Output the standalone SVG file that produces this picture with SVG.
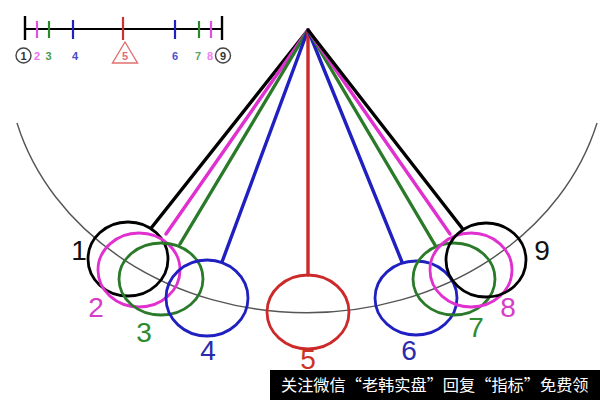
<svg xmlns="http://www.w3.org/2000/svg" width="600" height="400" viewBox="0 0 600 400">
<style>
.str{stroke-width:3.4;fill:none;stroke-linecap:round}
.bob{stroke-width:2.8;fill:none}
.k{stroke:#000}.m{stroke:#e030d0}.g{stroke:#2a7a2a}.b{stroke:#2020c0}.r{stroke:#cc2a2a}
.lbl{font-family:"Liberation Sans",Arial,sans-serif;font-size:28px;text-anchor:middle}
.sl{font-family:"Liberation Sans",Arial,sans-serif;font-size:11px;text-anchor:middle;font-weight:bold}
.tk{stroke-width:2.2}
</style>
<rect width="600" height="400" fill="#fff"/>
<g id="scale">
<line x1="25" y1="29" x2="222" y2="29" stroke="#000" stroke-width="2.2"/>
<line x1="25" y1="16" x2="25" y2="40" stroke="#000" stroke-width="2.4"/>
<line x1="222" y1="16" x2="222" y2="40" stroke="#000" stroke-width="2.4"/>
<line class="tk" x1="37" y1="21" x2="37" y2="38" stroke="#e050e0"/>
<line class="tk" x1="49" y1="21" x2="49" y2="38" stroke="#2a8a2a"/>
<line class="tk" x1="73" y1="20" x2="73" y2="39" stroke="#2020c0"/>
<line class="tk" x1="123" y1="17" x2="123" y2="40" stroke="#d03030"/>
<line class="tk" x1="175" y1="20" x2="175" y2="39" stroke="#2020c0"/>
<line class="tk" x1="199" y1="21" x2="199" y2="38" stroke="#2a8a2a"/>
<line class="tk" x1="211" y1="21" x2="211" y2="38" stroke="#e050e0"/>
<circle cx="23.5" cy="55.5" r="7.5" fill="none" stroke="#444" stroke-width="1.4"/>
<text class="sl" x="23.5" y="59.5" fill="#333">1</text>
<text class="sl" x="37" y="59.5" fill="#f070f0">2</text>
<text class="sl" x="48.5" y="59.5" fill="#4a9a4a">3</text>
<text class="sl" x="75" y="59.5" fill="#4848c8">4</text>
<polygon points="125,42 112.5,63 137.5,63" fill="none" stroke="#e07070" stroke-width="1.4"/>
<text class="sl" x="125" y="60" fill="#e07070" font-weight="normal">5</text>
<text class="sl" x="175" y="59.5" fill="#5050d0">6</text>
<text class="sl" x="198" y="59.5" fill="#60a060">7</text>
<text class="sl" x="210" y="59.5" fill="#f080f0">8</text>
<circle cx="223" cy="55.5" r="7.5" fill="none" stroke="#444" stroke-width="1.4"/>
<text class="sl" x="223" y="59.5" fill="#333">9</text>
</g>
<g id="arc">
<path d="M17,123 A300,255 0 0,0 597,123" fill="none" stroke="#555" stroke-width="1.4"/>
</g>
<g id="connectors">
<line class="str k" x1="308" y1="30" x2="152" y2="227"/>
<line class="str m" x1="308" y1="30" x2="166" y2="234"/>
<line class="str g" x1="308" y1="30" x2="180" y2="244"/>
<line class="str b" x1="308" y1="30" x2="222" y2="262"/>
<line class="str r" x1="308" y1="30" x2="308" y2="275"/>
<line class="str b" x1="308" y1="30" x2="402" y2="262"/>
<line class="str g" x1="308" y1="30" x2="435" y2="245"/>
<line class="str m" x1="308" y1="30" x2="450" y2="234"/>
<line class="str k" x1="308" y1="30" x2="462" y2="228"/>
</g>
<g id="bob1"><ellipse class="bob k" cx="128" cy="259" rx="40" ry="37"/><text class="lbl" x="79" y="260" fill="#111">1</text></g>
<g id="bob2"><ellipse class="bob m" cx="139" cy="270" rx="41" ry="37"/><text class="lbl" x="96" y="317" fill="#d63cc8">2</text></g>
<g id="bob3"><ellipse class="bob g" cx="161" cy="279" rx="42" ry="36"/><text class="lbl" x="144" y="342" fill="#2e8b2e">3</text></g>
<g id="bob4"><ellipse class="bob b" cx="207" cy="298" rx="41" ry="38"/><text class="lbl" x="208" y="360" fill="#2b2bab">4</text></g>
<g id="bob5"><ellipse class="bob r" cx="308" cy="312" rx="41" ry="37"/><text class="lbl" x="308" y="369" fill="#cc3322">5</text></g>
<g id="bob6"><ellipse class="bob b" cx="416" cy="298" rx="41" ry="37"/><text class="lbl" x="409" y="360" fill="#2b2bab">6</text></g>
<g id="bob7"><ellipse class="bob g" cx="454" cy="279" rx="41" ry="36"/><text class="lbl" x="476" y="337" fill="#2e8b2e">7</text></g>
<g id="bob8"><ellipse class="bob m" cx="471" cy="270" rx="41" ry="37"/><text class="lbl" x="508" y="317" fill="#d63cc8">8</text></g>
<g id="bob9"><ellipse class="bob k" cx="486" cy="260" rx="40" ry="37"/><text class="lbl" x="542" y="260" fill="#111">9</text></g>
<g id="watermark">
<rect x="270" y="370" width="330" height="30" fill="#000"/>
<text x="281" y="391" font-family="'Noto Sans CJK SC',sans-serif" font-size="16.2" fill="#fff">关注微信“老韩实盘”回复“指标”免费领</text>
</g>
</svg>
